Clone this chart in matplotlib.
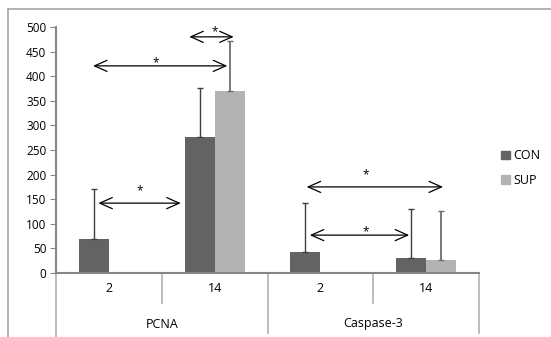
import numpy as np
import matplotlib.pyplot as plt
from matplotlib.lines import Line2D
from matplotlib.patches import Patch

groups = ['PCNA', 'Caspase-3']
days = ['2', '14', '2', '14']
con = [70, 276, 43, 30]
con_err = [100, 101, 100, 101]
sup = [0, 370, 0, 27]
sup_err = [0, 102, 0, 100]
# significance arrows: (x_start, x_end, y) in category units / data units
arrows = [(0.40, 1.18, 142), (0.35, 1.62, 421), (1.26, 1.68, 480),
          (2.37, 3.66, 175), (2.40, 3.34, 77)]
# star positions (x, y)
stars = [(0.79, 175), (0.94, 435), (1.50, 498), (2.93, 207), (2.93, 91)]

W, H = 551, 337
plt.rcParams['font.family'] = ['Open Sans', 'DejaVu Sans']
fig = plt.figure(figsize=(W/100, H/100), dpi=100)
ax = fig.add_axes([56/W, 1-273/H, (479-56)/W, (273-27)/H])

x = np.arange(len(days)) + 0.5
bw = 30/106
axis_col = '#868686'

ax.bar(x - bw/2, con, bw, color='#636363', label='CON', zorder=2)
ax.bar(x + bw/2, sup, bw, color='#b3b3b3', label='SUP', zorder=2)
ax.errorbar(x - bw/2, con, yerr=[np.zeros(4), con_err], fmt='none',
            ecolor='#404040', elinewidth=1, capsize=2.5, capthick=1, zorder=3)
has_sup = np.array(sup) > 0
ax.errorbar((x + bw/2)[has_sup], np.array(sup)[has_sup],
            yerr=[np.zeros(has_sup.sum()), np.array(sup_err)[has_sup]],
            fmt='none', ecolor='#6e6e6e', elinewidth=1.3, capsize=2.5,
            capthick=1, zorder=3)

for x0, x1, y in arrows:
    ax.annotate('', xy=(x0, y), xytext=(x1, y),
                arrowprops=dict(arrowstyle='<->,head_length=0.9,head_width=0.4',
                                color='black', lw=0.9, shrinkA=0, shrinkB=0))
for sx, sy in stars:
    # glyph sits high in its box, so nudge down a little
    ax.text(sx, sy - 8, '*', ha='center', va='center', fontsize=8.5,
            clip_on=False)

ax.set_xlim(0, 4)
ax.set_ylim(0, 500)
ax.set_yticks(range(0, 501, 50))
ax.tick_params(axis='y', labelsize=8.5, length=4, color=axis_col, pad=3)
ax.set_xticks([])
for s in ['top', 'right']:
    ax.spines[s].set_visible(False)
for s in ['left', 'bottom']:
    ax.spines[s].set_color(axis_col)
    ax.spines[s].set_linewidth(1.5)

# two-level category axis
tr = ax.get_xaxis_transform()
for xs in [0, 1, 2, 3, 4]:
    if xs == 0:
        bottom = (273 - 337) / (273 - 27)
    elif xs in (2, 4):
        bottom = (273 - 333) / (273 - 27)
    else:
        bottom = (273 - 303) / (273 - 27)
    ax.plot([xs, xs], [0, bottom], transform=tr, color='#b0b0b0', lw=1.2,
            clip_on=False)
for xi, d in zip(x, days):
    ax.text(xi, -(288 - 273) / (273 - 27), d, transform=tr, ha='center',
            va='center', fontsize=9)
for xi, g in zip([1, 3], groups):
    ax.text(xi, -(324 - 273) / (273 - 27), g, transform=tr, ha='center',
            va='center', fontsize=9)

# chart area border
fig.add_artist(Line2D([8/W, 1], [1-9/H, 1-9/H], color='#a6a6a6', lw=1.2))
fig.add_artist(Line2D([8/W, 8/W], [0, 1-9/H], color='#a6a6a6', lw=1.2))

handles = [Patch(color='#636363'), Patch(color='#b3b3b3')]
fig.legend(handles, ['CON', 'SUP'], loc='center left',
           bbox_to_anchor=(490/W, 1-168/H), frameon=False, fontsize=9,
           handlelength=0.7, handleheight=0.7, handletextpad=0.3,
           labelspacing=0.9)

fig.savefig('out.png', dpi=100)
